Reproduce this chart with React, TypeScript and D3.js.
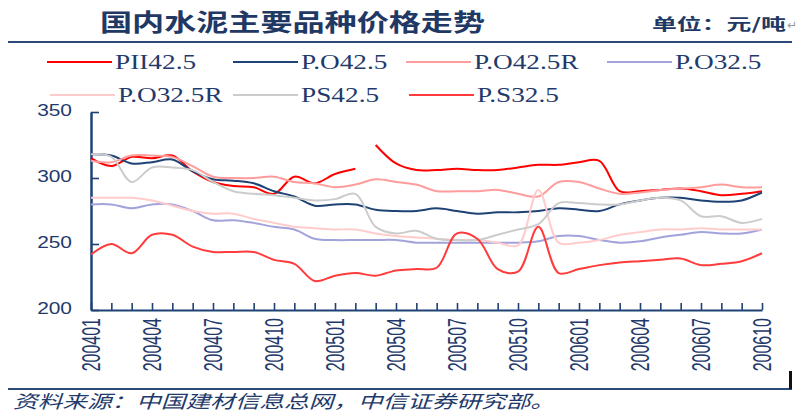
import React, { useEffect, useRef } from 'react';
import * as d3 from 'd3';

// monthly categories, 2004-01 .. 2006-10
const months = [
  '200401', '200402', '200403', '200404', '200405', '200406', '200407', '200408', '200409', '200410', '200411', '200412',
  '200501', '200502', '200503', '200504', '200505', '200506', '200507', '200508', '200509', '200510', '200511', '200512',
  '200601', '200602', '200603', '200604', '200605', '200606', '200607', '200608', '200609', '200610',
];
const tickLabels = ['200401', '200404', '200407', '200410', '200501', '200504', '200507', '200510', '200601', '200604', '200607', '200610'];
const yTicks = [200, 250, 300, 350];

// prices, yuan / ton
const pii425 = [315, 309, 316, 315, 317, 305, 297, 294, 293, 288, 301, 296, 303, 307, 325, 311, 306, 306, 307, 306, 306, 308, 310, 310, 312, 313, 290, 290, 291, 292, 290, 287, 288, 290];
const piiBreak = 14; // no line drawn between 200502 and 200503
const po425 = [318, 317, 311, 312, 314, 305, 299, 298, 296, 290, 286, 279, 280, 280, 276, 275, 275, 277, 275, 273, 274, 274, 275, 277, 276, 275, 280, 283, 285, 285, 283, 282, 283, 289];
const po425r = [313, 312, 317, 317, 316, 309, 301, 300, 300, 301, 297, 296, 293, 295, 299, 297, 295, 290, 290, 290, 291, 288, 286, 297, 297, 292, 288, 289, 291, 292, 293, 295, 293, 293];
const po325 = [280, 280, 277, 280, 280, 275, 268, 268, 266, 263, 261, 254, 253, 253, 253, 253, 251, 251, 251, 251, 251, 251, 252, 256, 256, 253, 251, 252, 255, 257, 259, 258, 258, 261];
const po325r = [285, 285, 285, 283, 279, 275, 273, 273, 269, 266, 263, 262, 261, 261, 258, 256, 255, 254, 253, 253, 251, 249, 291, 251, 251, 253, 257, 259, 261, 261, 262, 261, 261, 261];
const ps425 = [318, 316, 297, 308, 308, 306, 297, 290, 288, 287, 285, 283, 284, 288, 263, 258, 260, 254, 253, 253, 257, 261, 265, 281, 281, 280, 280, 283, 285, 283, 271, 271, 266, 269];
const ps325 = [242, 250, 243, 257, 257, 248, 244, 244, 244, 238, 235, 222, 226, 228, 226, 230, 231, 232, 258, 254, 231, 229, 263, 228, 231, 234, 236, 237, 238, 239, 234, 235, 237, 243];

const seriesNames = ['PII42.5', 'P.O42.5', 'P.O42.5R', 'P.O32.5', 'P.O32.5R', 'PS42.5', 'P.S32.5'];
const seriesValues = [pii425, po425, po425r, po325, po325r, ps425, ps325];
const seriesColors = ['#ff0000', '#1f4275', '#ff9c9c', '#a3a3dc', '#ffcccc', '#cccccc', '#ff3b3b'];

const NAVY = '#1f3a6b';

const App = () => {
  const ref = useRef<SVGSVGElement>(null);

  useEffect(() => {
    const svg = d3.select(ref.current);
    svg.selectAll('*').remove();

    const x = d3.scalePoint<string>().domain(months).range([91, 762]);
    const y = d3.scaleLinear().domain([200, 350]).range([310, 112]);

    // header
    svg.append('text')
      .attr('x', 100).attr('y', 31)
      .attr('font-family', '"Noto Sans CJK SC", sans-serif')
      .attr('font-weight', 'bold').attr('font-size', 24)
      .attr('fill', '#1f3864')
      .attr('textLength', 385).attr('lengthAdjust', 'spacingAndGlyphs')
      .text('国内水泥主要品种价格走势');
    svg.append('text')
      .attr('x', 652).attr('y', 30)
      .attr('font-family', '"Noto Sans CJK SC", sans-serif')
      .attr('font-weight', 'bold').attr('font-size', 16)
      .attr('fill', '#1f3864')
      .attr('textLength', 134).attr('lengthAdjust', 'spacingAndGlyphs')
      .text('单位：元/吨');
    svg.append('text')
      .attr('x', 787).attr('y', 29)
      .attr('font-family', 'DejaVu Sans').attr('font-size', 12)
      .attr('fill', '#999').text('↵');
    svg.append('line')
      .attr('x1', 8).attr('x2', 792).attr('y1', 42).attr('y2', 42)
      .attr('stroke', '#2b4a7a').attr('stroke-width', 2);

    // legend
    const legendPos = [[47, 62], [233, 62], [406, 62], [607, 62], [50, 95], [233, 95], [409, 95]];
    const legend = svg.append('g')
      .selectAll('g')
      .data(seriesNames)
      .enter()
      .append('g')
      .attr('transform', (d, i) => 'translate(' + legendPos[i][0] + ',' + legendPos[i][1] + ')');
    legend.append('line')
      .attr('x1', 0).attr('x2', 65).attr('y1', 0).attr('y2', 0)
      .attr('stroke', (d, i) => seriesColors[i]).attr('stroke-width', 2);
    legend.append('text')
      .attr('transform', 'translate(68,7) scale(1.3,1)')
      .attr('font-family', '"Liberation Serif", serif')
      .attr('font-size', 21)
      .attr('fill', NAVY)
      .text(d => d);

    // axes
    const yAxis = svg.append('g')
      .attr('transform', 'translate(91,0)')
      .call(d3.axisLeft(y).tickValues(yTicks).tickSizeInner(-8).tickSizeOuter(0).tickFormat(() => ''));
    const xAxis = svg.append('g')
      .attr('transform', 'translate(0,310)')
      .call(d3.axisBottom(x).tickSizeInner(-7).tickSizeOuter(0).tickFormat(() => ''));
    [yAxis, xAxis].forEach(a => {
      a.selectAll('path, line').attr('stroke', '#1f4275');
      a.select('.domain').attr('stroke-width', 2.5);
      a.selectAll('.tick line').attr('stroke-width', 1.6);
    });
    xAxis.select('.domain').attr('stroke-width', 2);

    svg.append('g')
      .selectAll('text')
      .data(yTicks)
      .enter()
      .append('text')
      .attr('transform', d => 'translate(72,' + (y(d) + 4) + ') scale(1.23,1)')
      .attr('text-anchor', 'end')
      .attr('font-family', '"Liberation Sans", Arial, sans-serif')
      .attr('font-size', 17)
      .attr('fill', NAVY)
      .text(d => d);

    svg.append('g')
      .selectAll('text')
      .data(tickLabels)
      .enter()
      .append('text')
      .attr('transform', d => 'translate(' + x(d) + ',318) scale(1.6,1) rotate(-90)')
      .attr('text-anchor', 'end')
      .attr('dy', '0.35em')
      .attr('font-family', '"Liberation Sans", Arial, sans-serif')
      .attr('font-size', 16)
      .attr('fill', NAVY)
      .text(d => d);

    // series
    const line = d3.line<[string, number]>()
      .x(d => x(d[0]) as number)
      .y(d => y(d[1]))
      .curve(d3.curveCatmullRom.alpha(0.5));

    const plot = svg.append('g');
    seriesValues.forEach((vals, si) => {
      const pts: [string, number][] = vals.map((v, i) => [months[i], v]);
      const parts = si === 0 ? [pts.slice(0, piiBreak), pts.slice(piiBreak)] : [pts];
      parts.forEach(p => {
        plot.append('path')
          .attr('d', line(p))
          .attr('fill', 'none')
          .attr('stroke', seriesColors[si])
          .attr('stroke-width', 2);
      });
    });

    // footer
    svg.append('line')
      .attr('x1', 8).attr('x2', 792).attr('y1', 389).attr('y2', 389)
      .attr('stroke', '#2b4a7a').attr('stroke-width', 2);
    svg.append('rect')
      .attr('x', 789).attr('y', 371).attr('width', 3).attr('height', 18)
      .attr('fill', '#111');
    svg.append('text')
      .attr('x', 13).attr('y', 408)
      .attr('font-family', '"Noto Sans CJK SC", sans-serif')
      .attr('font-style', 'italic').attr('font-size', 18)
      .attr('fill', NAVY)
      .attr('textLength', 542).attr('lengthAdjust', 'spacingAndGlyphs')
      .text('资料来源：中国建材信息总网，中信证券研究部。');
  }, []);

  return (
    <svg ref={ref} width={808} height={417}
      style={{ position: 'absolute', left: 0, top: 0, background: '#fff' }} />
  );
};

export default App;
